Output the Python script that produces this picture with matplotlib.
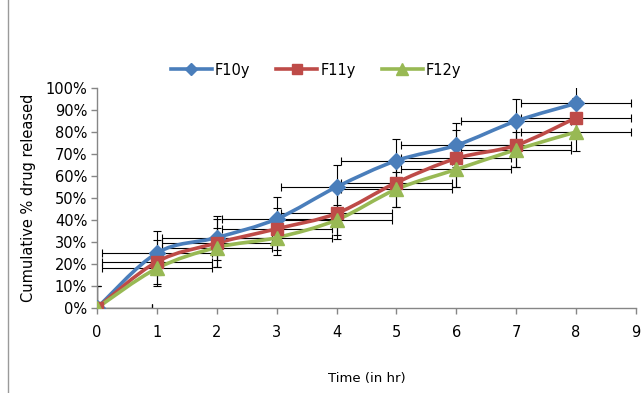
import matplotlib
matplotlib.use("Agg")
import matplotlib.pyplot as plt
from matplotlib.path import Path
from matplotlib.patches import PathPatch
from matplotlib.lines import Line2D
from matplotlib.ticker import FuncFormatter
import numpy as np

plt.rcParams['font.family'] = ['DejaVu Sans']

time = [0, 1, 2, 3, 4, 5, 6, 7, 8]
f10 = [0, 25, 32, 40.5, 55, 67, 74, 85, 93]
f11 = [0, 21, 29.5, 36, 43, 57, 68, 74, 86.5]
f12 = [0, 18, 27.5, 32, 40, 54, 63, 72, 80]
f10_err = [10, 10, 10, 10, 10, 10, 10, 10, 8]
f11_err = [10, 10, 11, 9.5, 11.5, 11, 13, 10, 9]
f12_err = [10, 8, 9, 8, 7, 8, 8, 8, 8.5]
time_err = 0.92

series = [
    ("F10y", f10, f10_err, "#4A7EBB", "D", 8),
    ("F11y", f11, f11_err, "#BE4B48", "s", 8.5),
    ("F12y", f12, f12_err, "#98B954", "^", 10),
]

fig = plt.figure(figsize=(6.43, 3.93), dpi=100)
ax = fig.add_axes([97/643, 85/393, 539/643, 220/393])


def smooth_path(xs, ys):
    pts = np.column_stack([xs, ys]).astype(float)
    n = len(pts)
    verts = [pts[0]]
    codes = [Path.MOVETO]
    for i in range(n - 1):
        p0 = pts[i - 1] if i > 0 else pts[i]
        p1 = pts[i]
        p2 = pts[i + 1]
        p3 = pts[i + 2] if i + 2 < n else pts[i + 1]
        c1 = p1 + (p2 - p0) / 6.0
        c2 = p2 - (p3 - p1) / 6.0
        verts += [c1, c2, p2]
        codes += [Path.CURVE4] * 3
    return Path(verts, codes)


for name, vals, err, col, mk, ms in series:
    ax.errorbar(time, vals, yerr=err, xerr=time_err, fmt='none', ecolor='black',
                elinewidth=0.8, capsize=2.6, capthick=0.8, zorder=2)
for name, vals, err, col, mk, ms in series:
    patch = PathPatch(smooth_path(time, vals), facecolor='none', edgecolor=col,
                      lw=2.6, zorder=3, capstyle='round', joinstyle='round')
    ax.add_patch(patch)
    ax.plot(time, vals, linestyle='none', marker=mk, markersize=ms, color=col,
            markeredgecolor=col, zorder=4)

ax.set_xlim(0, 9)
ax.set_ylim(0, 100)
ax.set_xticks(range(0, 10))
ax.set_yticks(range(0, 101, 10))
ax.yaxis.set_major_formatter(FuncFormatter(lambda v, p: f"{int(v)}%"))
for s in ['top', 'right']:
    ax.spines[s].set_visible(False)
for s in ['left', 'bottom']:
    ax.spines[s].set_color('#868686')
    ax.spines[s].set_linewidth(1.0)
ax.tick_params(axis='both', direction='out', length=4, width=1.0, color='#868686',
               labelsize=10.5, labelcolor='black')
ax.tick_params(axis='x', pad=8)
ax.tick_params(axis='y', pad=3)

ax.set_xlabel("Time (in hr)", fontsize=9.5, labelpad=23)
ax.set_ylabel("Cumulative % drug released", fontsize=10.5, labelpad=7)

handles = [Line2D([0], [0], color=c, lw=2.6, marker=m, markersize=ms*0.8)
           for _, _, _, c, m, ms in series]
fig.legend(handles, [s[0] for s in series], loc='center', bbox_to_anchor=(316/643, 1 - 70/393),
           ncol=3, frameon=False, fontsize=10.5, handlelength=2.8, handletextpad=0.2,
           columnspacing=1.8)

fig.add_artist(Line2D([8/643, 8/643], [0, 1], transform=fig.transFigure,
                      color='#9a9a9a', lw=1.0))

fig.savefig("out.png", dpi=100)
